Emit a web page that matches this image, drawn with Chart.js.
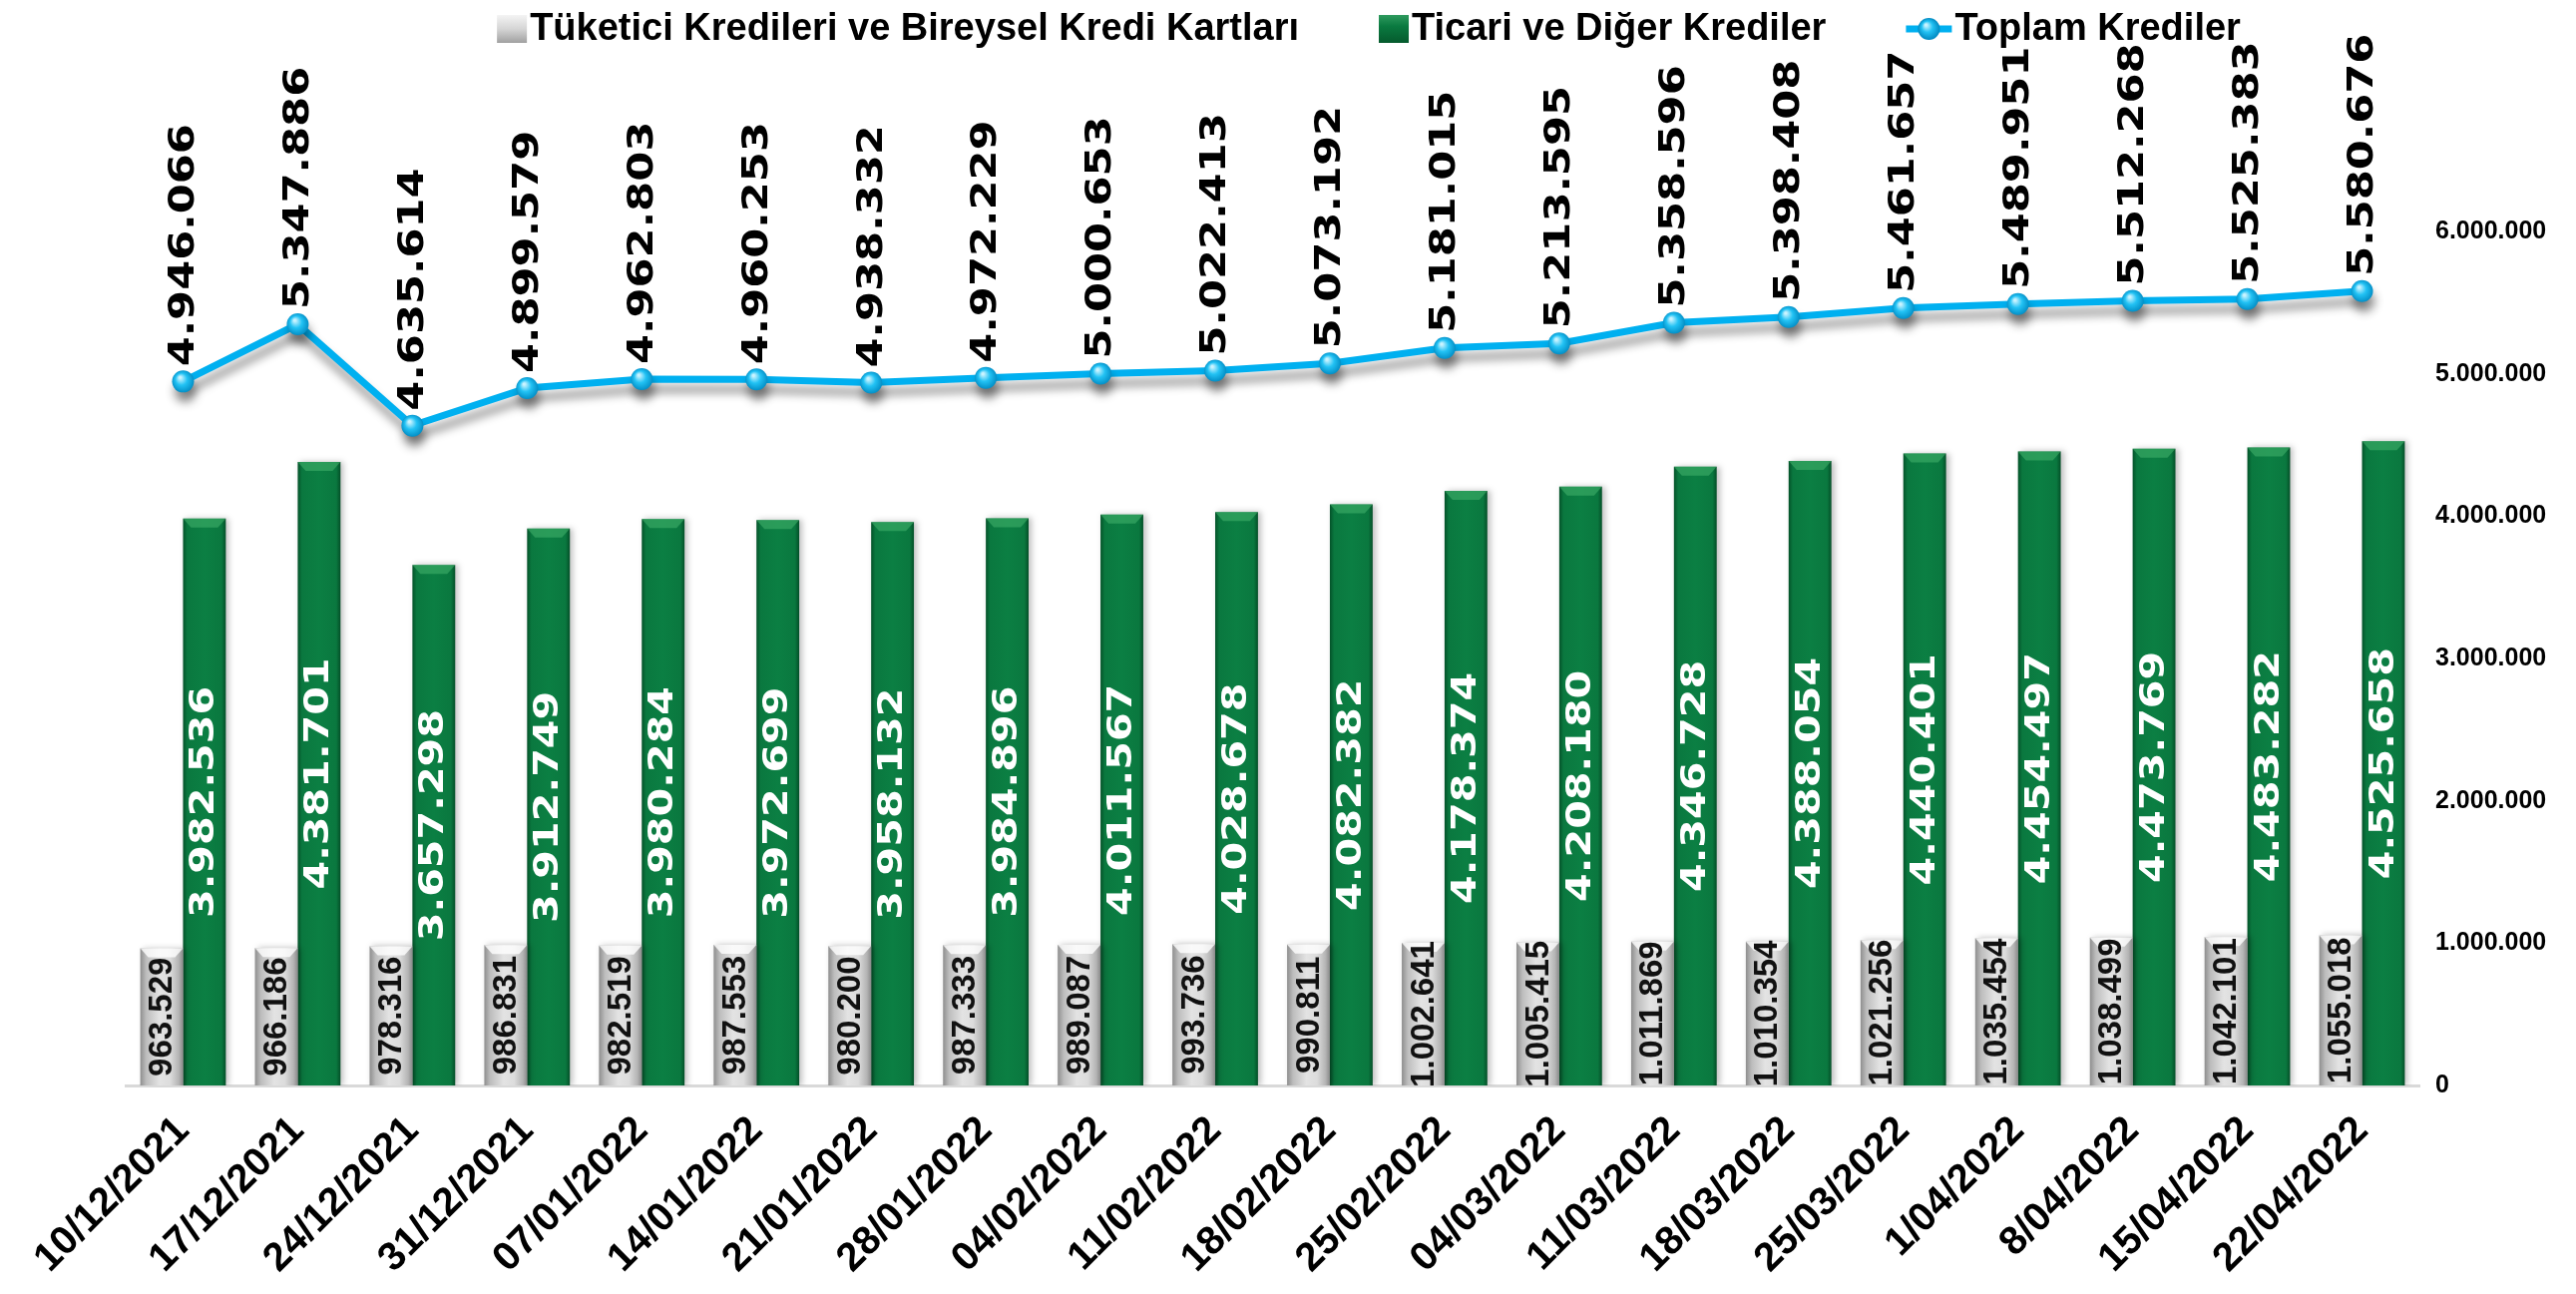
<!DOCTYPE html>
<html><head><meta charset="utf-8">
<script src="https://cdn.jsdelivr.net/npm/chart.js@4.4.0/dist/chart.umd.min.js"></script>
<style>html,body{margin:0;padding:0;background:#fff;overflow:hidden}#wrap{width:2582px;height:1297px;position:relative}canvas{display:block}</style>
</head><body><div id="wrap"><canvas id="c" width="2582" height="1297"></canvas></div>
<script>
const categories = ['10/12/2021','17/12/2021','24/12/2021','31/12/2021','07/01/2022','14/01/2022','21/01/2022','28/01/2022','04/02/2022','11/02/2022','18/02/2022','25/02/2022','04/03/2022','11/03/2022','18/03/2022','25/03/2022','1/04/2022','8/04/2022','15/04/2022','22/04/2022'];
const consumerLoans = [963529,966186,978316,986831,982519,987553,980200,987333,989087,993736,990811,1002641,1005415,1011869,1010354,1021256,1035454,1038499,1042101,1055018];
const commercialLoans = [3982536,4381701,3657298,3912749,3980284,3972699,3958132,3984896,4011567,4028678,4082382,4178374,4208180,4346728,4388054,4440401,4454497,4473769,4483282,4525658];
const totalLoans = [4946066,5347886,4635614,4899579,4962803,4960253,4938332,4972229,5000653,5022413,5073192,5181015,5213595,5358596,5398408,5461657,5489951,5512268,5525383,5580676];
const seriesNames = ['Tüketici Kredileri ve Bireysel Kredi Kartları','Ticari ve Diğer Krediler','Toplam Krediler'];
const yTickLabels = ['0','1.000.000','2.000.000','3.000.000','4.000.000','5.000.000','6.000.000'];

const FONT = "'Liberation Sans', Arial, sans-serif";
const WIDE = "'DejaVu Sans', Verdana, sans-serif";
const CAT_PCT = 0.746;
const fmt = v => String(v).replace(/\B(?=(\d{3})+(?!\d))/g, '.');

function barGradient(c, stops, fallback) {
  if (c.type !== 'data') return fallback;
  const xs = c.chart.scales.x;
  if (!xs) return fallback;
  const xc = xs.getPixelForValue(c.dataIndex);
  const bw = xs.width / categories.length * CAT_PCT / 2;
  const x0 = c.datasetIndex === 0 ? xc - bw : xc;
  if (!isFinite(x0) || !isFinite(bw) || bw <= 0) return fallback;
  const g = c.chart.ctx.createLinearGradient(x0, 0, x0 + bw, 0);
  stops.forEach(s => g.addColorStop(s[0], s[1]));
  return g;
}
const grayStops = [[0,'#8E8E8E'],[0.14,'#BDBDBD'],[0.45,'#E3E3E3'],[0.7,'#DCDCDC'],[0.9,'#B4B4B4'],[1,'#8A8A8A']];
const greenStops = [[0,'#045229'],[0.1,'#0A783F'],[0.5,'#0B7F43'],[0.9,'#0A783F'],[1,'#044F28']];

function pointGradient(c) {
  if (c.type !== 'data') return '#00B0F0';
  const xs = c.chart.scales.x, ys = c.chart.scales.y;
  if (!xs || !ys) return '#00B0F0';
  const x = xs.getPixelForValue(c.dataIndex), y = ys.getPixelForValue(c.raw);
  if (!isFinite(x) || !isFinite(y)) return '#00B0F0';
  const g = c.chart.ctx.createRadialGradient(x - 3, y - 4, 1, x, y, 12);
  g.addColorStop(0, '#C9F3FF');
  g.addColorStop(0.45, '#22C2F4');
  g.addColorStop(1, '#0088C0');
  return g;
}

const shadowPlugin = {
  id: 'shadows',
  beforeDatasetDraw(chart, args) {
    const ctx = chart.ctx;
    ctx.save();
    if (args.meta.type === 'line') {
      ctx.shadowColor = 'rgba(0,0,0,0.42)'; ctx.shadowBlur = 10; ctx.shadowOffsetX = 2; ctx.shadowOffsetY = 10;
    } else {
      ctx.shadowColor = 'rgba(0,0,0,0.25)'; ctx.shadowBlur = 6; ctx.shadowOffsetX = 3; ctx.shadowOffsetY = 0;
    }
  },
  afterDatasetDraw(chart, args) {
    chart.ctx.restore();
    if (args.meta.type === 'bar') {
      const ctx = chart.ctx;
      const light = args.index === 0 ? 'rgba(255,255,255,0.8)' : 'rgba(70,180,110,0.55)';
      args.meta.data.forEach(el => {
        const w = el.width, x0 = el.x - w / 2, y0 = el.y, h = 9;
        if (!isFinite(x0) || !isFinite(y0)) return;
        ctx.save();
        ctx.fillStyle = light;
        ctx.beginPath();
        ctx.moveTo(x0, y0); ctx.lineTo(x0 + w, y0); ctx.lineTo(x0 + w - 8, y0 + h); ctx.lineTo(x0 + 8, y0 + h); ctx.closePath();
        ctx.fill();
        ctx.restore();
      });
    }
  }
};

function rotText(ctx, text, x, y, font, color, align, sx) {
  ctx.save();
  ctx.translate(x, y);
  ctx.rotate(-Math.PI / 2);
  ctx.scale(sx, 1);
  ctx.font = font; ctx.fillStyle = color; ctx.textAlign = align; ctx.textBaseline = 'middle';
  ctx.fillText(text, 0, 0);
  ctx.restore();
}

const labelPlugin = {
  id: 'valueLabels',
  afterDatasetsDraw(chart) {
    const ctx = chart.ctx;
    chart.data.datasets.forEach((ds, di) => {
      const meta = chart.getDatasetMeta(di);
      meta.data.forEach((el, i) => {
        const t = fmt(ds.data[i]);
        if (meta.type === 'line') {
          rotText(ctx, t, el.x + 1, el.y - 15, 'bold 36px ' + WIDE, '#000', 'left', 1.2);
        } else if (di === 0) {
          rotText(ctx, t, el.x + 1, (el.y + el.base) / 2, 'bold 33px ' + FONT, '#111', 'center', 1.0);
        } else {
          rotText(ctx, t, el.x + 1, (el.y + el.base) / 2, 'bold 33px ' + WIDE, '#fff', 'center', 1.25);
        }
      });
    });
  }
};

const legendPlugin = {
  id: 'customLegend',
  afterDraw(chart) {
    const ctx = chart.ctx;
    ctx.save();
    ctx.font = 'bold 38px ' + FONT;
    ctx.textBaseline = 'middle'; ctx.textAlign = 'left';
    const cy = 29, boxW = [30, 30, 46], gapText = 3, gapItem = 80, centerX = 1372;
    const widths = seriesNames.map(n => ctx.measureText(n).width);
    let total = 0;
    widths.forEach((w, i) => { total += boxW[i] + gapText + w; });
    total += gapItem * (seriesNames.length - 1);
    let x = centerX - total / 2;
    seriesNames.forEach((name, i) => {
      if (i === 0) {
        const g = ctx.createLinearGradient(0, cy - 14, 0, cy + 14);
        g.addColorStop(0, '#F4F4F4'); g.addColorStop(0.5, '#D5D5D5'); g.addColorStop(1, '#A0A0A0');
        ctx.fillStyle = g; ctx.fillRect(x, cy - 14, boxW[i], 28);
      } else if (i === 1) {
        const g = ctx.createLinearGradient(0, cy - 14, 0, cy + 14);
        g.addColorStop(0, '#2E9A5E'); g.addColorStop(0.4, '#0A7A40'); g.addColorStop(1, '#055A2D');
        ctx.fillStyle = g; ctx.fillRect(x, cy - 14, boxW[i], 28);
      } else {
        ctx.strokeStyle = '#00B0F0'; ctx.lineWidth = 7;
        ctx.beginPath(); ctx.moveTo(x, cy); ctx.lineTo(x + boxW[i], cy); ctx.stroke();
        const g = ctx.createRadialGradient(x + boxW[i] / 2 - 3, cy - 4, 1, x + boxW[i] / 2, cy, 11);
        g.addColorStop(0, '#C9F3FF'); g.addColorStop(0.45, '#22C2F4'); g.addColorStop(1, '#0088C0');
        ctx.fillStyle = g; ctx.beginPath(); ctx.arc(x + boxW[i] / 2, cy, 11, 0, Math.PI * 2); ctx.fill();
      }
      x += boxW[i] + gapText;
      ctx.fillStyle = '#000';
      ctx.fillText(name, x, cy + 1);
      x += widths[i] + gapItem;
    });
    ctx.restore();
  }
};

new Chart(document.getElementById('c'), {
  data: {
    labels: categories,
    datasets: [
      { type: 'bar', label: seriesNames[0], data: consumerLoans, order: 1,
        backgroundColor: c => barGradient(c, grayStops, '#D9D9D9'),
        categoryPercentage: CAT_PCT, barPercentage: 1.0 },
      { type: 'bar', label: seriesNames[1], data: commercialLoans, order: 2,
        backgroundColor: c => barGradient(c, greenStops, '#0A7A40'),
        categoryPercentage: CAT_PCT, barPercentage: 1.0 },
      { type: 'line', label: seriesNames[2], data: totalLoans, order: 0,
        borderColor: '#00B0F0', borderWidth: 7, tension: 0,
        pointRadius: 11, pointBorderWidth: 0, pointBackgroundColor: pointGradient }
    ]
  },
  options: {
    responsive: false,
    animation: false,
    devicePixelRatio: 1,
    layout: { padding: { left: 126, top: 232, right: 0, bottom: 0 } },
    plugins: { legend: { display: false }, tooltip: { enabled: false } },
    scales: {
      x: {
        grid: { display: false, drawTicks: false },
        border: { display: true, color: '#D9D9D9', width: 3 },
        ticks: { autoSkip: false, maxRotation: 45, minRotation: 45, padding: 22, color: '#000',
                 font: { family: FONT, size: 40, weight: 'bold' } },
        afterFit: s => { s.height = 209; }
      },
      y: {
        position: 'right', min: 0, max: 6000000,
        grid: { display: false, drawTicks: false },
        border: { display: false },
        ticks: { stepSize: 1000000, padding: 16, color: '#000',
                 font: { family: FONT, size: 25, weight: 'bold' },
                 callback: v => yTickLabels[Math.round(v / 1000000)] },
        afterFit: s => { s.width = 157; }
      }
    }
  },
  plugins: [shadowPlugin, labelPlugin, legendPlugin]
});
</script></body></html>
